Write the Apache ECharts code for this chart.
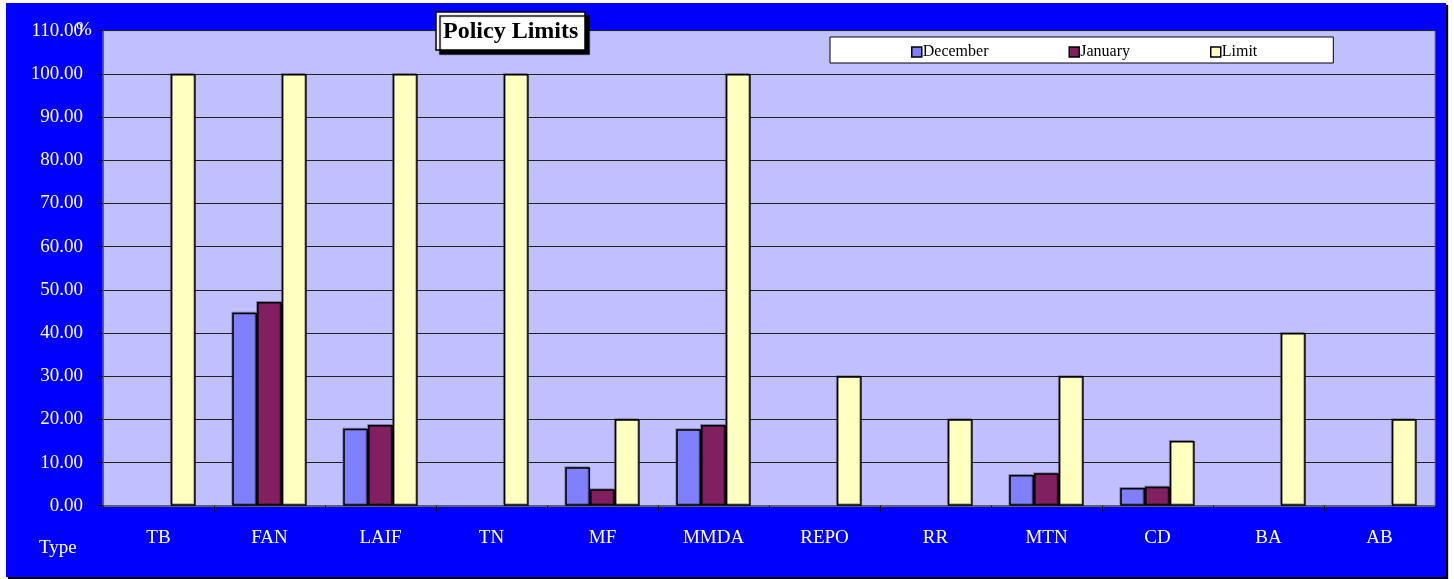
<!DOCTYPE html>
<html lang="en">
<head>
    <meta charset="UTF-8">
    <title>Policy Limits</title>
    <script type="text/javascript" src="https://cdn.jsdelivr.net/npm/echarts@6/dist/echarts.min.js"></script>
    <style>
        html, body { margin: 0; padding: 0; background: #fff; }
        #chart { width: 1454px; height: 579px; }
    </style>
</head>
<body>
<div id="chart"></div>
<script>
    // data
    var categories = ['TB', 'FAN', 'LAIF', 'TN', 'MF', 'MMDA', 'REPO', 'RR', 'MTN', 'CD', 'BA', 'AB'];
    var december = [null, 44.7, 17.8, null, 8.9, 17.7, null, null, 7.1, 4.1, null, null];
    var january = [null, 47.2, 18.7, null, 3.8, 18.7, null, null, 7.5, 4.4, null, null];
    var limit = [100, 100, 100, 100, 20, 100, 30, 20, 30, 15, 40, 20];
    var yMin = 0, yMax = 110, yStep = 10;

    var serif = '"Liberation Serif", "Times New Roman", serif';
    var chart = echarts.init(document.getElementById('chart'));

    function barSeries(name, data, color) {
        return {
            name: name,
            type: 'bar',
            data: data,
            barGap: '0%',
            barCategoryGap: '33%',
            itemStyle: {
                color: color,
                borderColor: '#000',
                borderWidth: 1.5,
                shadowColor: 'rgba(0,0,0,0.3)',
                shadowOffsetX: -1,
                shadowOffsetY: -1
            },
            emphasis: { disabled: true }
        };
    }

    var option = {
        backgroundColor: '#fff',
        animation: false,
        graphic: [
            {   // blue chart area with dark drop shadow
                type: 'rect',
                z: -10,
                shape: { x: 6, y: 3, width: 1440, height: 574 },
                style: { fill: '#0000FF', shadowColor: '#000', shadowBlur: 1, shadowOffsetX: 2, shadowOffsetY: 2 }
            },
            {
                type: 'text',
                left: 39,
                top: 539,
                style: { text: 'Type', fill: '#fff', font: '19px ' + serif }
            },
            {
                type: 'text',
                left: 76,
                top: 21,
                z: 10,
                style: { text: '%', fill: '#fff', font: '19px ' + serif }
            }
        ],
        title: {
            text: 'Policy Limits',
            left: 436,
            top: 12,
            padding: [8, 7, 6, 7],
            backgroundColor: '#fff',
            borderColor: '#000',
            borderWidth: 1.5,
            shadowColor: '#000',
            shadowBlur: 1,
            shadowOffsetX: 4,
            shadowOffsetY: 4,
            textStyle: { fontFamily: serif, fontSize: 24, fontWeight: 'bold', color: '#000' }
        },
        legend: {
            data: ['December', 'January', 'Limit'],
            icon: 'rect',
            left: 830,
            top: 37,
            width: 503,
            padding: [7, 76, 3, 81],
            itemGap: 80,
            itemWidth: 10,
            itemHeight: 10,
            itemStyle: { borderColor: '#000', borderWidth: 1.5, shadowColor: 'transparent' },
            backgroundColor: '#fff',
            borderColor: '#000',
            borderWidth: 1,
            textStyle: { fontFamily: serif, fontSize: 16, color: '#000', padding: [0, 0, 0, -4] }
        },
        grid: {
            left: 103,
            right: 19,
            top: 30.7,
            bottom: 73.3,
            show: true,
            backgroundColor: '#C0C0FF',
            borderColor: '#808080',
            borderWidth: 1
        },
        xAxis: {
            type: 'category',
            data: categories,
            axisLine: { lineStyle: { color: '#606060', width: 2 } },
            axisTick: { show: true, length: 6, lineStyle: { color: '#000' } },
            axisLabel: { color: '#fff', fontFamily: serif, fontSize: 19, margin: 23 }
        },
        yAxis: {
            type: 'value',
            min: yMin,
            max: yMax,
            interval: yStep,
            axisLine: { show: true, lineStyle: { color: '#606060', width: 1 } },
            axisTick: { show: true, length: 5, lineStyle: { color: '#000' } },
            splitLine: { lineStyle: { color: '#222', width: 1 } },
            axisLabel: {
                color: '#fff',
                fontFamily: serif,
                fontSize: 19,
                margin: 20,
                formatter: function (v) { return v.toFixed(2); }
            }
        },
        series: [
            barSeries('December', december, '#8080FF'),
            barSeries('January', january, '#802060'),
            barSeries('Limit', limit, '#FFFFC0')
        ]
    };
    chart.setOption(option);
</script>
</body>
</html>
